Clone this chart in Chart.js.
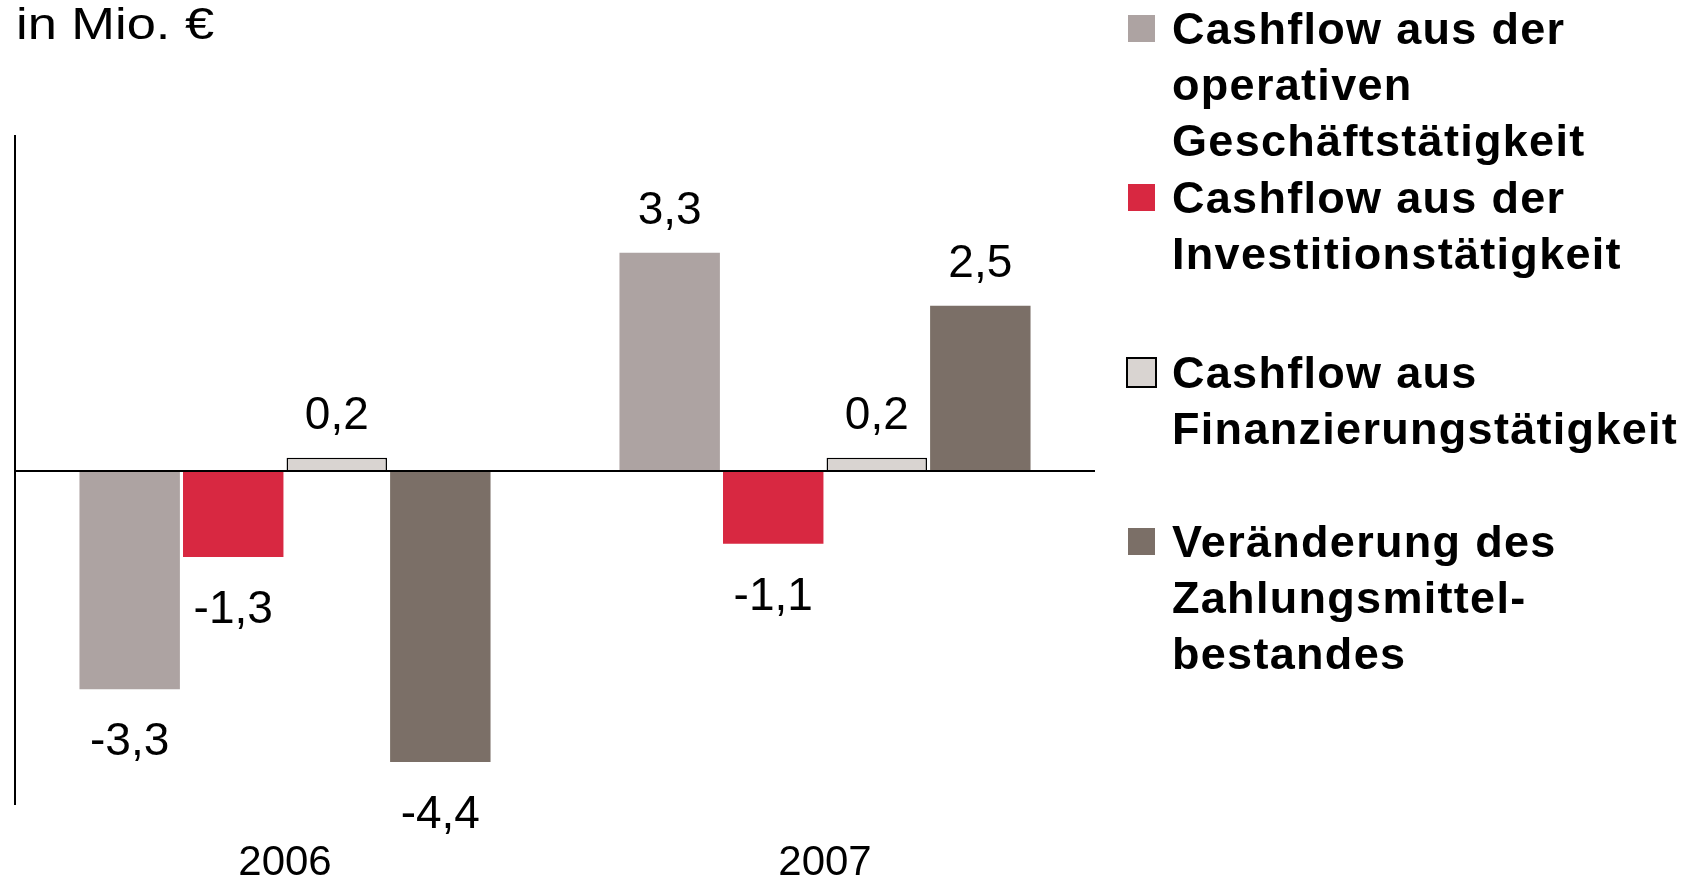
<!DOCTYPE html>
<html lang="de">
<head>
<meta charset="utf-8">
<title>Cashflow 2006 / 2007</title>
<script src="https://cdn.jsdelivr.net/npm/chart.js@4.4.0/dist/chart.umd.min.js"></script>
<style>
    html, body { margin: 0; padding: 0; background: #fff; overflow: hidden; }
    body { width: 1697px; height: 880px; position: relative; font-family: 'Liberation Sans', Arial, sans-serif; color: #000; }
    #chart { position: absolute; left: 0; top: 0; }
    .unit { position: absolute; left: 16px; top: 1px; font-size: 45px; line-height: 45px; white-space: nowrap;
            transform: scaleX(1.165); transform-origin: 0 0; }
    .legend-item { position: absolute; left: 1126px; }
    .legend-item .swatch { position: absolute; left: 2px; top: 14px; width: 27px; height: 27px; box-sizing: border-box; }
    .legend-item .swatch.outlined { left: 0; top: 12px; width: 31px; height: 31px; border: 2px solid #000; }
    .legend-item .label { position: absolute; left: 46px; top: 0; font-size: 45px; font-weight: bold; line-height: 56px;
                          letter-spacing: 1.3px; white-space: nowrap; }
</style>
</head>
<body>
<div class="unit" id="unit"></div>
<!-- canvas is a bit taller than the page; the x labels sit below the plot with a wide gap -->
<canvas id="chart" width="1697" height="921"></canvas>
<div id="legend"></div>

<script>
/* Cashflow chart, values in Mio. EUR */

var unitLabel = 'in Mio. €';
var categories = ['2006', '2007'];

var seriesNames = [
    ['Cashflow aus der', 'operativen', 'Geschäftstätigkeit'],
    ['Cashflow aus der', 'Investitionstätigkeit'],
    ['Cashflow aus', 'Finanzierungstätigkeit'],
    ['Veränderung des', 'Zahlungsmittel-', 'bestandes']
];

var operativ = [-3.3, 3.3];
var investition = [-1.3, -1.1];
var finanzierung = [0.2, 0.2];
var veraenderung = [-4.4, 2.5];

var FONT = "'Liberation Sans', Arial, sans-serif";

var series = [
    { data: operativ, color: '#ADA3A2' },
    { data: investition, color: '#D82841' },
    { data: finanzierung, color: '#D9D4D1', outlined: true },
    { data: veraenderung, color: '#7B6F67' }
];

// vertical place of each legend entry (px from top)
var legendTops = [1, 170, 345, 514];

// value labels above / below the bars
var valueLabels = {
    id: 'valueLabels',
    afterDatasetsDraw: function (chart) {
        var ctx = chart.ctx;
        ctx.save();
        ctx.font = '46px ' + FONT;
        ctx.fillStyle = '#000';
        ctx.textAlign = 'center';
        ctx.textBaseline = 'alphabetic';
        chart.data.datasets.forEach(function (ds, i) {
            chart.getDatasetMeta(i).data.forEach(function (bar, j) {
                var v = ds.data[j];
                var text = v.toFixed(1).replace('.', ',');
                var y = v >= 0 ? bar.y - 29 : bar.y + 66;
                ctx.fillText(text, bar.x, y);
            });
        });
        ctx.restore();
    }
};

document.getElementById('unit').textContent = unitLabel;

// legend
var $legend = document.getElementById('legend');
series.forEach(function (s, i) {
    var item = document.createElement('div');
    item.className = 'legend-item';
    item.style.top = legendTops[i] + 'px';
    var sw = document.createElement('div');
    sw.className = 'swatch' + (s.outlined ? ' outlined' : '');
    sw.style.background = s.color;
    var label = document.createElement('div');
    label.className = 'label';
    seriesNames[i].forEach(function (line, k) {
        if (k > 0) label.appendChild(document.createElement('br'));
        label.appendChild(document.createTextNode(line));
    });
    item.appendChild(sw);
    item.appendChild(label);
    $legend.appendChild(item);
});

new Chart(document.getElementById('chart'), {
    type: 'bar',
    data: {
        labels: categories,
        datasets: series.map(function (s, i) {
            return {
                label: seriesNames[i].join(' '),
                data: s.data,
                backgroundColor: s.color,
                borderColor: s.outlined ? '#000' : s.color,
                borderWidth: s.outlined ? 1.5 : 0,
                categoryPercentage: 0.767,
                barPercentage: 0.97
            };
        })
    },
    options: {
        responsive: false,
        animation: false,
        devicePixelRatio: 1,
        layout: { padding: { left: 15, right: 602, top: 135, bottom: 0 } },
        plugins: {
            legend: { display: false },
            tooltip: { enabled: false }
        },
        scales: {
            x: {
                // only the first category boundary is drawn: it is the left axis line
                grid: {
                    display: true,
                    offset: true,
                    drawTicks: false,
                    lineWidth: 2,
                    color: function (c) {
                        return c.type === 'tick' && c.index === 0 ? '#000' : 'rgba(0,0,0,0)';
                    }
                },
                border: { display: false },
                ticks: {
                    color: '#000',
                    padding: 41.2,
                    font: { family: FONT, size: 42, lineHeight: 0.8 }
                }
            },
            y: {
                min: -5.05,
                max: 5.08,
                ticks: { display: false, stepSize: 1 },
                grid: {
                    drawTicks: false,
                    z: 1,
                    lineWidth: 2,
                    color: function (c) {
                        return c.tick && c.tick.value === 0 ? '#000' : 'rgba(0,0,0,0)';
                    }
                },
                border: { display: false }
            }
        }
    },
    plugins: [valueLabels]
});
</script>
</body>
</html>
